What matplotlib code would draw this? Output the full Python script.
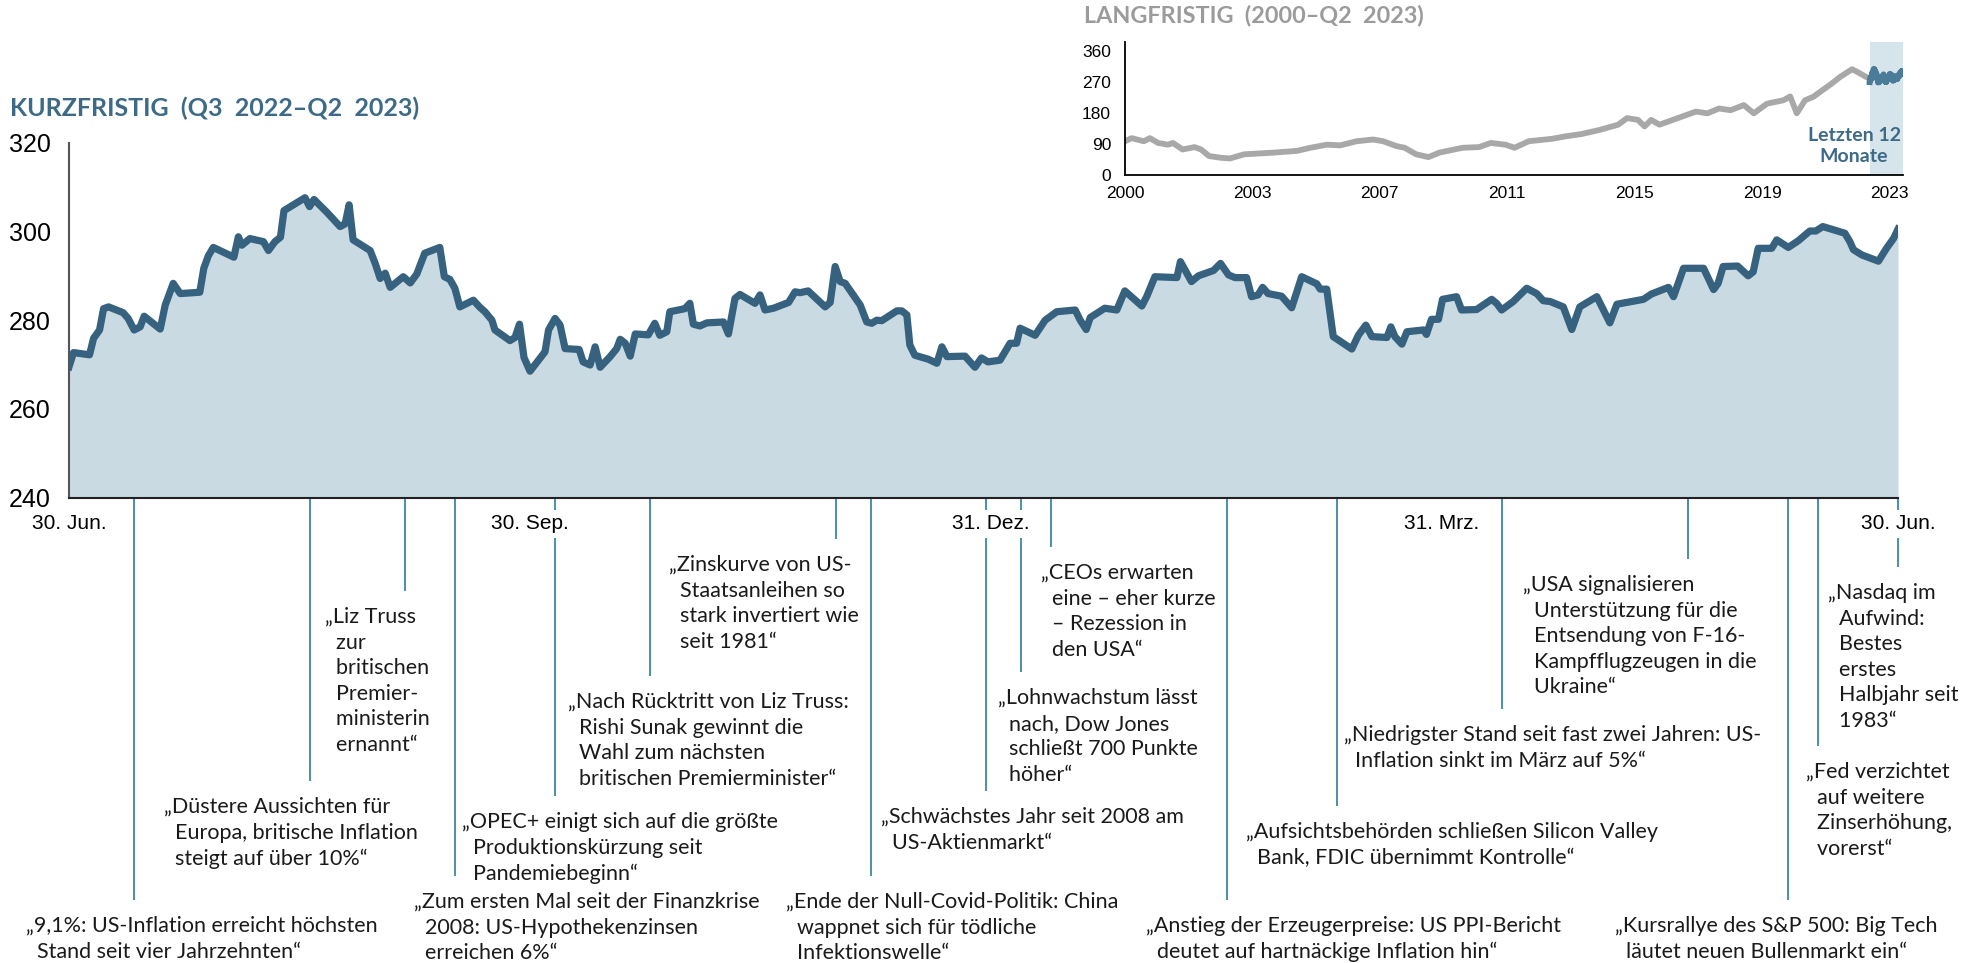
import numpy as np
import matplotlib
matplotlib.use('Agg')
from matplotlib import pyplot as plt
from matplotlib import transforms

W, H = 1977, 963

# Kurzfristig: Tage seit 30.06.2022 und Indexstand
tage = [0.0, 0.9, 4.1, 4.9, 6.1, 6.9, 7.9, 10.8, 11.8, 13.0, 14.2, 15.0, 18.2, 19.2,
        20.8, 22.2, 26.1, 26.9, 27.8, 28.8, 32.9, 33.8, 34.5, 36.1, 38.8, 39.8, 41.1,
        42.2, 42.9, 44.8, 47.1, 48.0, 48.9, 51.4, 54.1, 55.1, 55.9, 56.7, 58.4, 60.1,
        61.1, 62.1, 63.1, 64.1, 66.7, 68.1, 69.4, 71.0, 74.0, 74.9, 76.0, 77.0, 78.0,
        80.7, 82.0, 83.0, 84.4, 85.0, 88.0, 89.0, 89.9, 90.8, 92.0,
        95.0, 95.7, 97.0, 98.0, 99.0, 101.8, 102.6, 104.0, 105.0, 106.0, 108.0, 109.3,
        110.0, 111.0, 112.0, 113.0, 115.6, 116.9, 117.9, 119.3, 119.9, 122.9, 123.9,
        124.6, 125.9, 127.3, 130.6, 131.6, 132.9, 133.9, 136.9, 137.9, 138.9, 140.6,
        143.6, 144.9, 145.9, 147.5, 150.9, 151.9, 152.9, 153.9, 154.9, 156.5, 157.9,
        159.2, 160.2, 161.2, 162.2, 165.2, 166.2, 167.2, 167.8, 168.8, 171.5, 173.2,
        174.2, 175.2, 178.8, 180.8, 182.1, 183.4,
        185.8, 187.8, 189.1, 189.8, 192.8, 194.8, 197.1, 200.8, 201.8, 203.0, 203.8,
        206.7, 209.1, 210.7, 214.1, 215.1, 216.7, 221.1, 221.8, 224.0, 225.4, 228.4,
        229.8, 231.4, 232.7, 235.0, 236.0, 237.3, 238.2, 239.3, 242.0, 244.0, 246.0,
        249.0, 249.7, 251.0, 252.3, 256.0, 257.3, 258.8, 260.0, 263.0, 263.8, 264.6,
        266.0, 267.0, 270.3, 270.9, 271.9, 273.3, 274.1,
        276.9, 277.9, 280.9, 283.9, 284.9, 285.9, 288.2, 290.9, 292.9, 294.2, 295.6,
        298.2, 299.9, 301.5, 304.9, 307.5, 308.9, 314.2, 315.8, 319.2, 320.2, 322.2,
        326.2, 328.2, 329.1, 330.1, 333.0, 335.1, 336.1, 337.1, 339.8, 340.8, 343.1,
        345.1, 347.4, 348.6, 350.0, 354.4, 355.4, 356.1, 357.8, 361.1, 362.7, 364.1, 365.0]
kurs = [269.5, 272.7, 272.2, 275.9, 277.8, 282.6, 283.0, 281.7, 280.4, 277.8, 278.5, 280.9, 278.0, 283.4,
        288.3, 286.0, 286.3, 291.7, 294.5, 296.4, 294.2, 298.8, 296.9, 298.4, 297.7, 295.7, 297.7,
        298.7, 304.7, 306.0, 307.6, 305.6, 307.2, 304.4, 301.1, 301.7, 306.0, 298.1, 296.9, 295.7,
        292.8, 289.4, 290.6, 287.4, 289.8, 288.4, 290.4, 295.1, 296.4, 289.8, 289.2, 287.2, 283.0,
        284.5, 282.9, 281.9, 280.0, 277.8, 275.4, 276.1, 279.1, 271.6, 268.5,
        272.9, 277.8, 280.4, 278.9, 273.6, 273.4, 270.6, 269.9, 274.0, 269.4, 271.8, 273.6,
        275.7, 274.8, 271.9, 276.9, 276.7, 279.3, 276.6, 277.4, 281.9, 282.6, 283.8,
        279.1, 278.7, 279.4, 279.6, 276.9, 284.9, 285.8, 283.8, 285.7, 282.3, 282.7,
        284.0, 286.4, 286.2, 286.6, 283.0, 284.0, 292.1, 288.7, 288.3, 285.7, 283.4,
        279.6, 279.3, 280.0, 279.9, 282.1, 282.1, 281.2, 274.4, 272.1, 271.2, 270.3,
        274.0, 271.8, 271.9, 269.4, 271.5, 270.6,
        271.0, 274.8, 274.8, 278.2, 276.6, 280.0, 281.9, 282.3, 280.0, 277.9, 280.6,
        282.7, 282.3, 286.6, 283.2, 285.4, 289.8, 289.6, 293.2, 288.7, 290.0, 291.2,
        292.8, 290.2, 289.6, 289.6, 285.3, 285.7, 287.4, 286.0, 285.4, 282.8, 289.8,
        288.2, 287.0, 287.0, 276.3, 273.5, 276.6, 278.9, 276.3, 276.1, 278.5, 276.3,
        274.6, 277.4, 277.8, 276.8, 280.2, 280.2, 284.7,
        285.3, 282.3, 282.4, 284.7, 283.8, 282.3, 284.2, 287.2, 286.0, 284.4, 284.2,
        283.0, 277.9, 283.0, 285.3, 279.4, 283.6, 284.7, 285.9, 287.4, 285.3, 291.7,
        291.7, 286.9, 288.3, 292.1, 292.2, 290.0, 290.9, 296.2, 296.2, 298.1, 296.4,
        297.9, 300.1, 300.1, 301.1, 299.6, 297.7, 295.9, 294.7, 293.3, 296.2, 298.4, 300.5]

tick_tage = [0, 92, 184, 274, 365]
tick_namen = ['30. Jun.', '30. Sep.', '31. Dez.', '31. Mrz.', '30. Jun.']
y_ticks = [240, 260, 280, 300, 320]

# Langfristig (2000 - Q2 2023)
lang_jahr = [2000.0, 2000.2, 2000.57, 2000.75, 2001.0, 2001.3, 2001.45, 2001.74, 2002.1, 2002.3,
             2002.54, 2002.9, 2003.17, 2003.6, 2004.5, 2005.2, 2005.6, 2006.1, 2006.5, 2007.0,
             2007.5, 2007.8, 2008.2, 2008.45, 2008.8, 2009.17, 2009.5, 2010.2, 2010.7, 2011.05,
             2011.5, 2011.77, 2012.2, 2012.9, 2013.3, 2013.8, 2014.35, 2014.9, 2015.17, 2015.5,
             2015.7, 2015.9, 2016.15, 2016.7, 2017.25, 2017.6, 2017.95, 2018.3, 2018.7, 2019.0,
             2019.4, 2019.9, 2020.1, 2020.3, 2020.55, 2020.8, 2021.0, 2021.35, 2021.6, 2021.97,
             2022.15, 2022.5]
lang_wert = [98, 107, 98, 107, 93, 88, 93, 74, 81, 74,
             55, 50, 48, 60, 65, 70, 79, 88, 86, 98,
             103, 98, 84, 79, 60, 52, 65, 79, 81, 93,
             88, 79, 98, 105, 112, 119, 131, 146, 165, 160,
             141, 160, 146, 165, 184, 179, 193, 188, 203, 179,
             207, 217, 228, 179, 217, 227, 241, 265, 284, 307,
             298, 279]
lang_ticks = ['2000', '2003', '2007', '2011', '2015', '2019', '2023']
lang_yticks = [0, 90, 180, 270, 360]

# Ereignisse
ereignis_datum = ['2022-07-13', '2022-08-17', '2022-09-05', '2022-09-15', '2022-10-05',
                  '2022-10-24', '2022-11-30', '2022-12-07', '2022-12-30', '2023-01-06',
                  '2023-01-12', '2023-02-16', '2023-03-10', '2023-04-12', '2023-05-19',
                  '2023-06-08', '2023-06-14', '2023-06-30']
ereignis_text = [
    ['„9,1%: US-Inflation erreicht höchsten', 'Stand seit vier Jahrzehnten“'],
    ['„Düstere Aussichten für', 'Europa, britische Inflation', 'steigt auf über 10%“'],
    ['„Liz Truss', 'zur', 'britischen', 'Premier-', 'ministerin', 'ernannt“'],
    ['„Zum ersten Mal seit der Finanzkrise', '2008: US-Hypothekenzinsen', 'erreichen 6%“'],
    ['„OPEC+ einigt sich auf die größte', 'Produktionskürzung seit', 'Pandemiebeginn“'],
    ['„Nach Rücktritt von Liz Truss:', 'Rishi Sunak gewinnt die', 'Wahl zum nächsten',
     'britischen Premierminister“'],
    ['„Zinskurve von US-', 'Staatsanleihen so', 'stark invertiert wie', 'seit 1981“'],
    ['„Ende der Null-Covid-Politik: China', 'wappnet sich für tödliche', 'Infektionswelle“'],
    ['„Schwächstes Jahr seit 2008 am', 'US-Aktienmarkt“'],
    ['„Lohnwachstum lässt', 'nach, Dow Jones', 'schließt 700 Punkte', 'höher“'],
    ['„CEOs erwarten', 'eine – eher kurze', '– Rezession in', 'den USA“'],
    ['„Anstieg der Erzeugerpreise: US PPI-Bericht', 'deutet auf hartnäckige Inflation hin“'],
    ['„Aufsichtsbehörden schließen Silicon Valley', 'Bank, FDIC übernimmt Kontrolle“'],
    ['„Niedrigster Stand seit fast zwei Jahren: US-', 'Inflation sinkt im März auf 5%“'],
    ['„USA signalisieren', 'Unterstützung für die', 'Entsendung von F-16-',
     'Kampfflugzeugen in die', 'Ukraine“'],
    ['„Kursrallye des S&P 500: Big Tech', 'läutet neuen Bullenmarkt ein“'],
    ['„Fed verzichtet', 'auf weitere', 'Zinserhöhung,', 'vorerst“'],
    ['„Nasdaq im', 'Aufwind:', 'Bestes', 'erstes', 'Halbjahr seit', '1983“'],
]
# Textposition (links, oben) in Pixeln
text_pos = [(26, 916), (164, 797), (325, 607), (414, 892), (462, 812), (568, 692),
            (669, 555), (786, 892), (881, 807), (998, 688), (1041, 563), (1146, 916),
            (1246, 822), (1344, 725), (1523, 575), (1615, 916), (1806, 762), (1828, 583)]

BLAU = '#36627F'
FLAECHE = '#C9DAE3'
TITEL = '#3D6A87'
LINIE = '#4A8FA6'
TXT = ['Lato', 'DejaVu Sans']
ARIAL = ['Liberation Sans', 'DejaVu Sans']


def fx(px):
    return px / W


def fy(py):
    return 1 - py / H


fig = plt.figure(figsize=(W / 100, H / 100), dpi=100)

# Hauptchart
ax_top, ax_bot, ax_l, ax_r = 142.7, 497.7, 69, 1898
ax = fig.add_axes([fx(ax_l), fy(ax_bot), fx(ax_r) - fx(ax_l), (ax_bot - ax_top) / H])
ax.fill_between(tage, kurs, 240, color=FLAECHE, lw=0, zorder=2)
ax.plot(tage, kurs, color=BLAU, lw=5.2, zorder=3)
ax.set_xlim(0, 365)
ax.set_ylim(240, 320)
ax.set_yticks(y_ticks)
ax.set_xticks(tick_tage, tick_namen)
for s in ['top', 'right']:
    ax.spines[s].set_visible(False)
ax.spines['left'].set_color('#555555')
ax.spines['left'].set_linewidth(1.5)
ax.spines['bottom'].set_color('#222222')
ax.spines['bottom'].set_linewidth(1.5)
ax.spines['left'].set_zorder(4)
ax.spines['bottom'].set_zorder(4)
ax.tick_params(axis='both', length=0)
ax.tick_params(axis='y', pad=13)
ax.tick_params(axis='x', pad=12)
for lbl in ax.get_yticklabels():
    lbl.set_fontfamily(ARIAL)
    lbl.set_fontsize(18)
for lbl in ax.get_xticklabels():
    lbl.set_fontfamily(ARIAL)
    lbl.set_fontsize(15)
    lbl.set_bbox(dict(facecolor='white', edgecolor='none', pad=3))

# Ereignislinien und Texte
start = np.datetime64('2022-06-30')
trans = transforms.blended_transform_factory(ax.transData, fig.transFigure)
for datum, zeilen, (tx, ty) in zip(ereignis_datum, ereignis_text, text_pos):
    d = (np.datetime64(datum) - start).astype(int)
    ax.plot([d, d], [fy(ax_bot), fy(ty - 17)], transform=trans, color=LINIE,
            lw=1.4, clip_on=False, zorder=1)
    txt = zeilen[0] + '\n' + '\n'.join('  ' + z for z in zeilen[1:])
    fig.text(fx(tx), fy(ty), txt, ha='left', va='top', fontsize=15.5,
             family=TXT, color='#1a1a1a', linespacing=1.35)

fig.text(fx(10), fy(108), 'KURZFRISTIG  (Q3  2022–Q2  2023)', ha='left', va='center',
         fontsize=18, family=TXT, weight='bold', color=TITEL)

# Inset langfristig
i_l, i_r, i_top, i_bot = 1125, 1902.7, 42, 175
axi = fig.add_axes([fx(i_l), fy(i_bot), fx(i_r) - fx(i_l), (i_bot - i_top) / H])
axi.axvspan(2022.5, 2023.5, color='#D6E4EB', lw=0, zorder=0)
axi.plot(lang_jahr, lang_wert, color='#A8A8A8', lw=4.2, zorder=2)
axi.plot(2022.5 + np.array(tage) / 365, kurs, color='#4A7C99', lw=4.2, zorder=3)
axi.set_xlim(2000, 2023.5)
axi.set_ylim(0, 386)
axi.set_yticks(lang_yticks)
axi.set_xticks(np.linspace(2000, 2023.1, len(lang_ticks)), lang_ticks)
for s in ['top', 'right']:
    axi.spines[s].set_visible(False)
for s in ['left', 'bottom']:
    axi.spines[s].set_linewidth(1.3)
axi.tick_params(axis='both', length=0)
axi.tick_params(axis='y', pad=10)
axi.tick_params(axis='x', pad=8)
for lbl in axi.get_xticklabels() + axi.get_yticklabels():
    lbl.set_fontfamily(ARIAL)
    lbl.set_fontsize(12.5)

fig.text(fx(1854), fy(146), 'Letzten 12\nMonate', ha='center', va='center', fontsize=14,
         family=TXT, weight='bold', color=TITEL, linespacing=1.25)
fig.text(fx(1084), fy(16), 'LANGFRISTIG  (2000–Q2  2023)', ha='left', va='center',
         fontsize=16.8, family=TXT, weight='bold', color='#9B9B9B')

fig.savefig('out.png', dpi=100)
